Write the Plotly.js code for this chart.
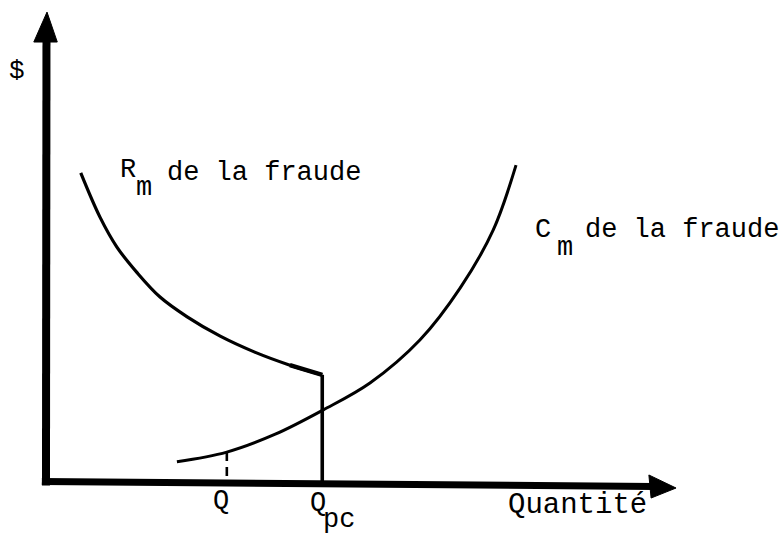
<!DOCTYPE html>
<html>
<head>
<meta charset="utf-8">
<script src="https://cdn.plot.ly/plotly-3.0.1.min.js"></script>
<style>
html,body{margin:0;padding:0;background:#fff;}
#chart{width:781px;height:535px;}
</style>
</head>
<body>
<div id="chart"></div>
<script>
// Marginal revenue of fraud (R_m) — quantity vs $
const rmQ = [4.6, 7.2, 9.5, 12.3, 15.4, 19.1, 23.6, 28.3, 33.1, 37.5];
const rmY = [64.2, 55.1, 48.9, 43.5, 38.5, 34.4, 30.4, 27.1, 24.4, 22.4];
// Marginal cost of fraud (C_m)
const cmQ = [17.7, 24.5, 31.1, 37.6, 44.0, 50.8, 56.3, 60.8, 63.9];
const cmY = [4.4, 6.4, 10.1, 15.1, 20.7, 29.6, 40.4, 52.4, 65.8];
// Key quantities
const qStar = 24.5, qStarY = 6.4;
const qPc = 37.5, qPcY = 22.4;
// Text labels
const yLabel = "$";
const xLabel = "Quantité";
const rmLabel = ["R", "m", "de la fraude"];
const cmLabel = ["C", "m", "de la fraude"];
const qStarLabel = "Q";
const qPcLabel = ["Q", "pc"];

const FONT = "'Courier New', 'Liberation Mono', monospace";
const ink = "#000";

const traces = [
  {x: rmQ, y: rmY, mode: "lines", line: {color: ink, width: 3.2, shape: "spline"}, hoverinfo: "skip"},
  {x: rmQ.slice(-2), y: rmY.slice(-2), mode: "lines", line: {color: ink, width: 4.4, shape: "spline"}, hoverinfo: "skip"},
  {x: cmQ, y: cmY, mode: "lines", line: {color: ink, width: 3, shape: "spline"}, hoverinfo: "skip"},
  {x: [qPc, qPc], y: [qPcY, 0], mode: "lines", line: {color: ink, width: 3.6}, hoverinfo: "skip"},
  {x: [qStar, qStar], y: [qStarY, 0], mode: "lines", line: {color: ink, width: 2.6, dash: "9px,6px"}, hoverinfo: "skip"}
];

const shapes = [
  // y axis
  {type: "line", xref: "x", yref: "y", x0: -0.14, y0: -0.5, x1: -0.07, y1: 92.0, line: {color: ink, width: 8}},
  {type: "path", xref: "x", yref: "y", path: "M 0,97.5 L -1.8,91.3 L 1.4,91.3 Z", fillcolor: ink, line: {color: ink, width: 1}},
  // x axis
  {type: "line", xref: "x", yref: "y", x0: -0.7, y0: 0.31, x1: 82.6, y1: -0.72, line: {color: ink, width: 7}},
  {type: "path", xref: "x", yref: "y", path: "M 85.7,-1.04 L 82.0,1.66 L 82.3,-3.11 Z", fillcolor: ink, line: {color: ink, width: 1}}
];

function ann(text, x, y, size, xanchor) {
  return {text: text, x: x, y: y, xref: "x", yref: "y", showarrow: false,
          xanchor: xanchor || "left", yanchor: "middle",
          font: {family: FONT, size: size, color: ink}};
}

const annotations = [
  ann(yLabel, -4.09, 85.4, 26, "center"),
  ann(rmLabel[0], 9.67, 64.8, 27),
  ann(rmLabel[1], 11.92, 61.08, 27),
  ann(rmLabel[2], 16.08, 64.18, 27),
  ann(cmLabel[0], 66.21, 52.38, 27),
  ann(cmLabel[1], 69.21, 48.65, 27),
  ann(cmLabel[2], 73.02, 52.38, 27),
  ann(qStarLabel, 22.34, -3.73, 27),
  ann(qPcLabel[0], 35.56, -4.14, 27),
  ann(qPcLabel[1], 37.33, -7.66, 27),
  ann(xLabel, 62.53, -4.62, 29)
];

const layout = {
  width: 781, height: 535,
  margin: {l: 0, r: 0, t: 0, b: 0, pad: 0},
  paper_bgcolor: "#fff", plot_bgcolor: "#fff",
  showlegend: false,
  xaxis: {range: [-6.403, 100], visible: false, fixedrange: true},
  yaxis: {range: [-10.766, 100], visible: false, fixedrange: true},
  shapes: shapes,
  annotations: annotations
};

Plotly.newPlot("chart", traces, layout, {displayModeBar: false, staticPlot: true});
</script>
</body>
</html>
